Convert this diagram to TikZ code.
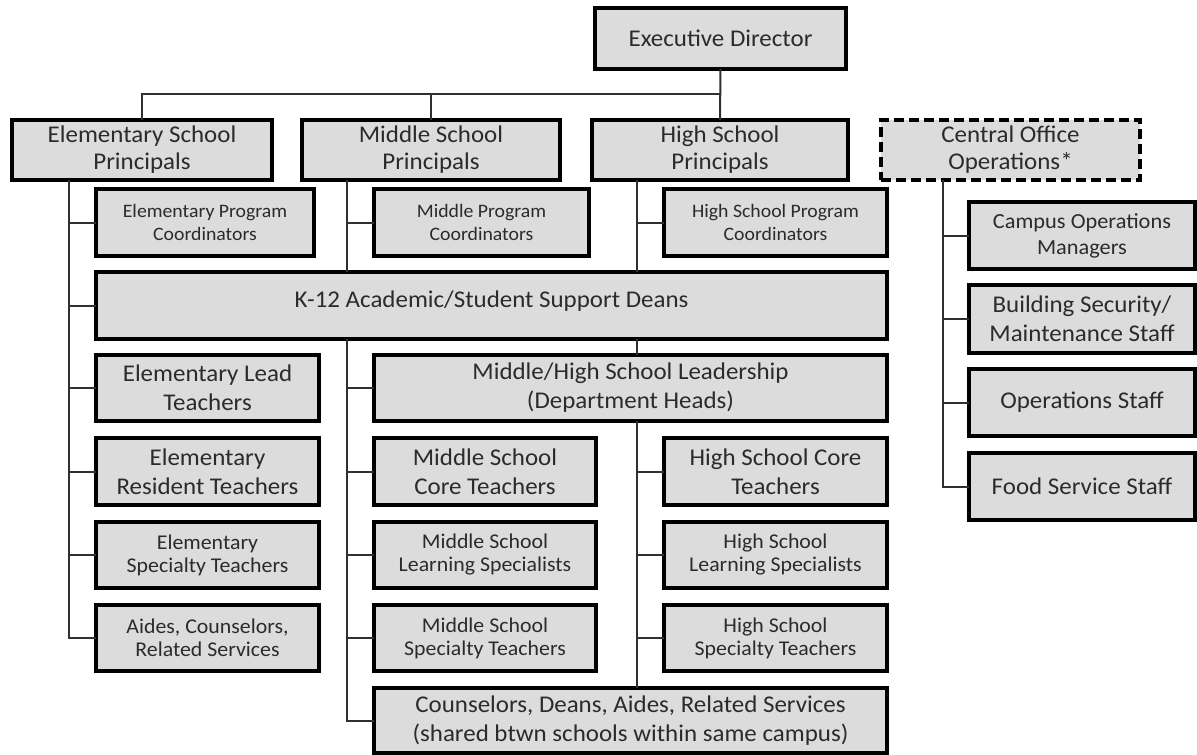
\documentclass[tikz,border=0pt]{standalone}
\usepackage{fontspec}
\setmainfont{Carlito}[FakeStretch=1.04]
\definecolor{boxfill}{HTML}{DCDCDC}
\definecolor{txt}{HTML}{2B2B2B}
\definecolor{conn}{HTML}{303030}
\newcommand{\mybox}[7]{\node[#6, minimum width={#4-#2}, minimum height={#5-#3}] (#1) at ({(#2+#4)/2},{(#3+#5)/2}) {#7};}
\tikzset{
  base/.style={draw=black, line width=3.4pt, fill=boxfill, text=txt, align=center, inner sep=0pt, outer sep=0pt},
  big/.style={base, font=\fontsize{24}{29}\selectfont},
  med/.style={base, font=\fontsize{21.5}{26}\selectfont},
  small/.style={base, font=\fontsize{19}{23}\selectfont},
  dashbox/.style={big, dash pattern=on 10pt off 5pt},
  link/.style={draw=conn, line width=2pt}
}
\begin{document}
\begin{tikzpicture}[x=1pt,y=-1pt]
\useasboundingbox[fill=white] (0,0) rectangle (1197,755);
% top level
\mybox{ED}{595}{8}{846}{69}{big}{Executive Director}
\mybox{ESP}{12}{120}{272}{180}{big}{\raisebox{-2pt}{Elementary School}\\Principals}
\mybox{MSP}{302}{120}{560}{180}{big}{\raisebox{-2pt}{Middle School}\\Principals}
\mybox{HSP}{592}{120}{848}{180}{big}{\raisebox{-2pt}{High School}\\Principals}
\mybox{COO}{881}{120}{1140}{180}{dashbox}{\raisebox{-2pt}{Central Office}\\Operations*}
% program coordinators
\mybox{EPC}{96}{189}{314}{256}{small}{Elementary Program\\Coordinators}
\mybox{MPC}{374}{189}{589}{256}{small}{Middle Program\\Coordinators}
\mybox{HPC}{664}{189}{887}{256}{small}{High School Program\\Coordinators}
% deans
\mybox{K12}{96}{272}{887}{339}{big}{\raisebox{12pt}{K-12 Academic/Student Support Deans}}
% elementary column
\mybox{ELT}{96}{355}{319}{421}{big}{Elementary Lead\\Teachers}
\mybox{ERT}{96}{438}{319}{505}{big}{Elementary\\Resident Teachers}
\mybox{EST}{96}{522}{319}{588}{small}{\fontsize{21}{26}\selectfont Elementary\\\fontsize{21}{26}\selectfont Specialty Teachers}
\mybox{EAC}{96}{605}{319}{671}{small}{\fontsize{21}{26}\selectfont Aides, Counselors,\\\fontsize{21}{26}\selectfont Related Services}
% middle/high
\mybox{MHL}{374}{355}{887}{421}{big}{Middle/High School Leadership\\(Department Heads)}
\mybox{MCT}{374}{438}{596}{505}{big}{Middle School\\Core Teachers}
\mybox{MLS}{374}{522}{596}{588}{small}{\fontsize{21}{26}\selectfont Middle School\\\fontsize{21}{26}\selectfont Learning Specialists}
\mybox{MST}{374}{605}{596}{671}{small}{\fontsize{21}{26}\selectfont Middle School\\\fontsize{21}{26}\selectfont Specialty Teachers}
\mybox{HCT}{664}{438}{887}{505}{big}{High School Core\\Teachers}
\mybox{HLS}{664}{522}{887}{588}{small}{\fontsize{21}{26}\selectfont High School\\\fontsize{21}{26}\selectfont Learning Specialists}
\mybox{HST}{664}{605}{887}{671}{small}{\fontsize{21}{26}\selectfont High School\\\fontsize{21}{26}\selectfont Specialty Teachers}
\mybox{CDA}{374}{688}{887}{753}{big}{Counselors, Deans, Aides, Related Services\\(shared btwn schools within same campus)}
% operations
\mybox{COM}{969}{202}{1195}{269}{med}{Campus Operations\\Managers}
\mybox{BSM}{969}{285}{1195}{353}{big}{Building Security/\\Maintenance Staff}
\mybox{OPS}{969}{369}{1195}{436}{big}{Operations Staff}
\mybox{FSS}{969}{453}{1195}{520}{big}{Food Service Staff}
% spine x-positions
\coordinate (bus) at (0,94);
\coordinate (xe) at (69,0);
\coordinate (xm) at (347,0);
\coordinate (xh) at (637,0);
\coordinate (xc) at (943,0);
% top bus
\draw[link] (ED.south) -- (HSP.north);
\draw[link] (ESP.north) -- (ESP.north |- bus) -- (ED.south |- bus);
\draw[link] (MSP.north) -- (MSP.north |- bus);
% elementary
\foreach \n in {EPC,K12,ELT,ERT,EST,EAC} \draw[link] (ESP.south -| xe) |- (\n.west);
% middle
\draw[link] (MSP.south -| xm) |- (MPC.west);
\draw[link] (MSP.south -| xm) -- (K12.north -| xm);
\foreach \n in {MHL,MCT,MLS,MST,CDA} \draw[link] (K12.south -| xm) |- (\n.west);
% high
\draw[link] (HSP.south -| xh) |- (HPC.west);
\draw[link] (HSP.south -| xh) -- (K12.north -| xh);
\draw[link] (K12.south -| xh) -- (MHL.north -| xh);
\foreach \n in {HCT,HLS,HST} \draw[link] (MHL.south -| xh) |- (\n.west);
\draw[link] (MHL.south -| xh) -- (CDA.north -| xh);
% central office
\foreach \n in {COM,BSM,OPS,FSS} \draw[link] (COO.south -| xc) |- (\n.west);
\end{tikzpicture}
\end{document}
